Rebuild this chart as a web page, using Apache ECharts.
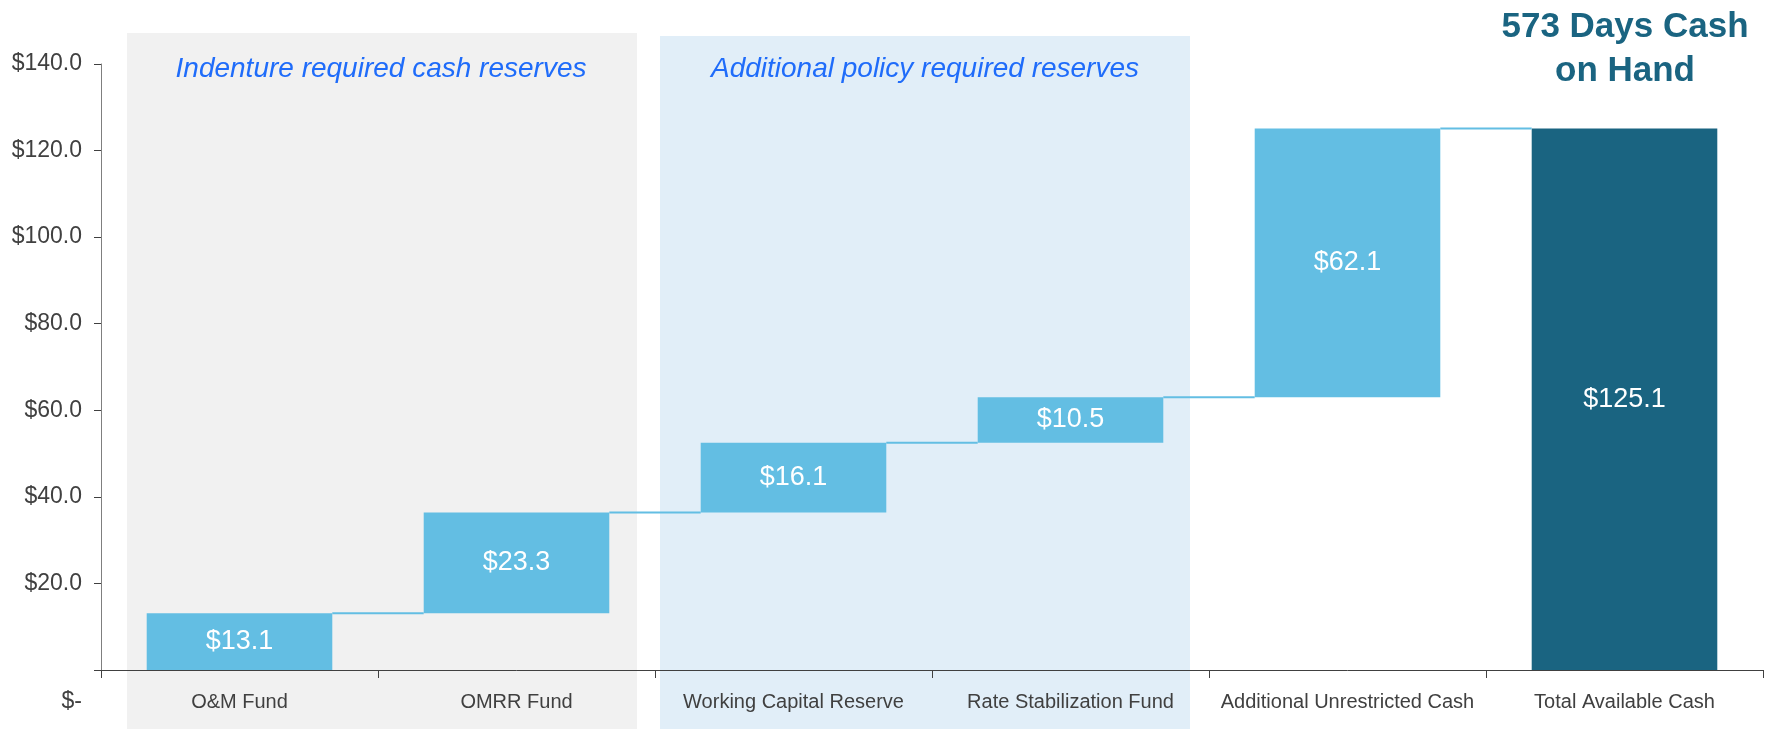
<!DOCTYPE html>
<html>
<head>
<meta charset="utf-8">
<script src="https://cdn.jsdelivr.net/npm/echarts@6/dist/echarts.min.js"></script>
<style>
  html, body { margin: 0; padding: 0; background: #fff; }
  #chart { width: 1769px; height: 729px; }
</style>
</head>
<body>
<div id="chart"></div>
<script>
// values in $ millions
var categories = ['O&M Fund', 'OMRR Fund', 'Working Capital Reserve', 'Rate Stabilization Fund', 'Additional Unrestricted Cash', 'Total Available Cash'];
var steps = [13.1, 23.3, 16.1, 10.5, 62.1];
var total = 125.1;
var bandTitles = ['Indenture required cash reserves', 'Additional policy required reserves'];
var headline = '573 Days Cash\non Hand';

var FONT = '"Liberation Sans", Arial, sans-serif';
var LIGHT = '#63bee3';
var DARK = '#1a6481';
var BAR_PCT = 0.67;

// running totals -> invisible base + visible step
var bases = [];
var tops = [];
var run = 0;
steps.forEach(function (s) {
    bases.push(+run.toFixed(1));
    run += s;
    tops.push(+run.toFixed(1));
});
bases.push(0);
var shown = steps.concat([total]);
var connectors = tops.map(function (v, i) { return [i, v]; });

var chart = echarts.init(document.getElementById('chart'));

var option = {
    animation: false,
    textStyle: { fontFamily: FONT },
    grid: { left: 101, right: 6, top: 64, bottom: 59 },
    graphic: [
        { type: 'rect', z: -10, shape: { x: 127, y: 33, width: 510, height: 696 }, style: { fill: '#f1f1f1' } },
        { type: 'rect', z: -10, shape: { x: 660, y: 36, width: 530, height: 693 }, style: { fill: '#e1eef8' } },
        { type: 'text', z: 5, style: { x: 381, y: 69, text: bandTitles[0], textAlign: 'center', textVerticalAlign: 'middle',
            font: 'italic 28px ' + FONT, fill: '#1f6cfa' } },
        { type: 'text', z: 5, style: { x: 925, y: 69, text: bandTitles[1], textAlign: 'center', textVerticalAlign: 'middle',
            font: 'italic 28px ' + FONT, fill: '#1f6cfa' } },
        { type: 'text', z: 5, style: { x: 1625, y: 49, text: headline, textAlign: 'center', textVerticalAlign: 'middle',
            font: 'bold 35px ' + FONT, lineHeight: 44, fill: DARK } }
    ],
    xAxis: {
        type: 'category',
        data: categories,
        axisLine: { lineStyle: { color: '#404040', width: 1 } },
        axisTick: { show: true, length: 8, lineStyle: { color: '#404040' } },
        axisLabel: { color: '#404040', fontSize: 20, margin: 22, interval: 0 }
    },
    yAxis: {
        type: 'value',
        min: 0,
        max: 140,
        interval: 20,
        splitLine: { show: false },
        axisLine: { show: true, lineStyle: { color: '#7f7f7f' } },
        axisTick: { show: true, length: 7, lineStyle: { color: '#404040' } },
        axisLabel: {
            color: '#404040',
            fontSize: 23,
            margin: 19,
            formatter: function (v) {
                return v === 0 ? '{z|$-}' : '$' + v.toFixed(1);
            },
            rich: { z: { fontSize: 23, color: '#404040', padding: [64, 0, 0, 0] } }
        }
    },
    series: [
        {
            type: 'bar',
            stack: 'w',
            barWidth: (BAR_PCT * 100) + '%',
            itemStyle: { color: 'transparent' },
            data: bases,
            silent: true
        },
        {
            type: 'bar',
            stack: 'w',
            barWidth: (BAR_PCT * 100) + '%',
            data: shown.map(function (v, i) {
                return { value: v, itemStyle: { color: i === shown.length - 1 ? DARK : LIGHT } };
            }),
            label: {
                show: true,
                position: 'inside',
                color: '#ffffff',
                fontSize: 27,
                formatter: function (p) { return '$' + p.value.toFixed(1); }
            }
        },
        {
            type: 'custom',
            z: 3,
            data: connectors,
            renderItem: function (params, api) {
                var i = api.value(0);
                var v = api.value(1);
                var a = api.coord([i, v]);
                var b = api.coord([i + 1, v]);
                var half = api.size([1, 0])[0] * BAR_PCT / 2;
                return {
                    type: 'line',
                    shape: { x1: a[0] + half, y1: a[1], x2: b[0] - half, y2: b[1] },
                    style: { stroke: LIGHT, lineWidth: 2 }
                };
            }
        }
    ]
};

chart.setOption(option);
</script>
</body>
</html>
